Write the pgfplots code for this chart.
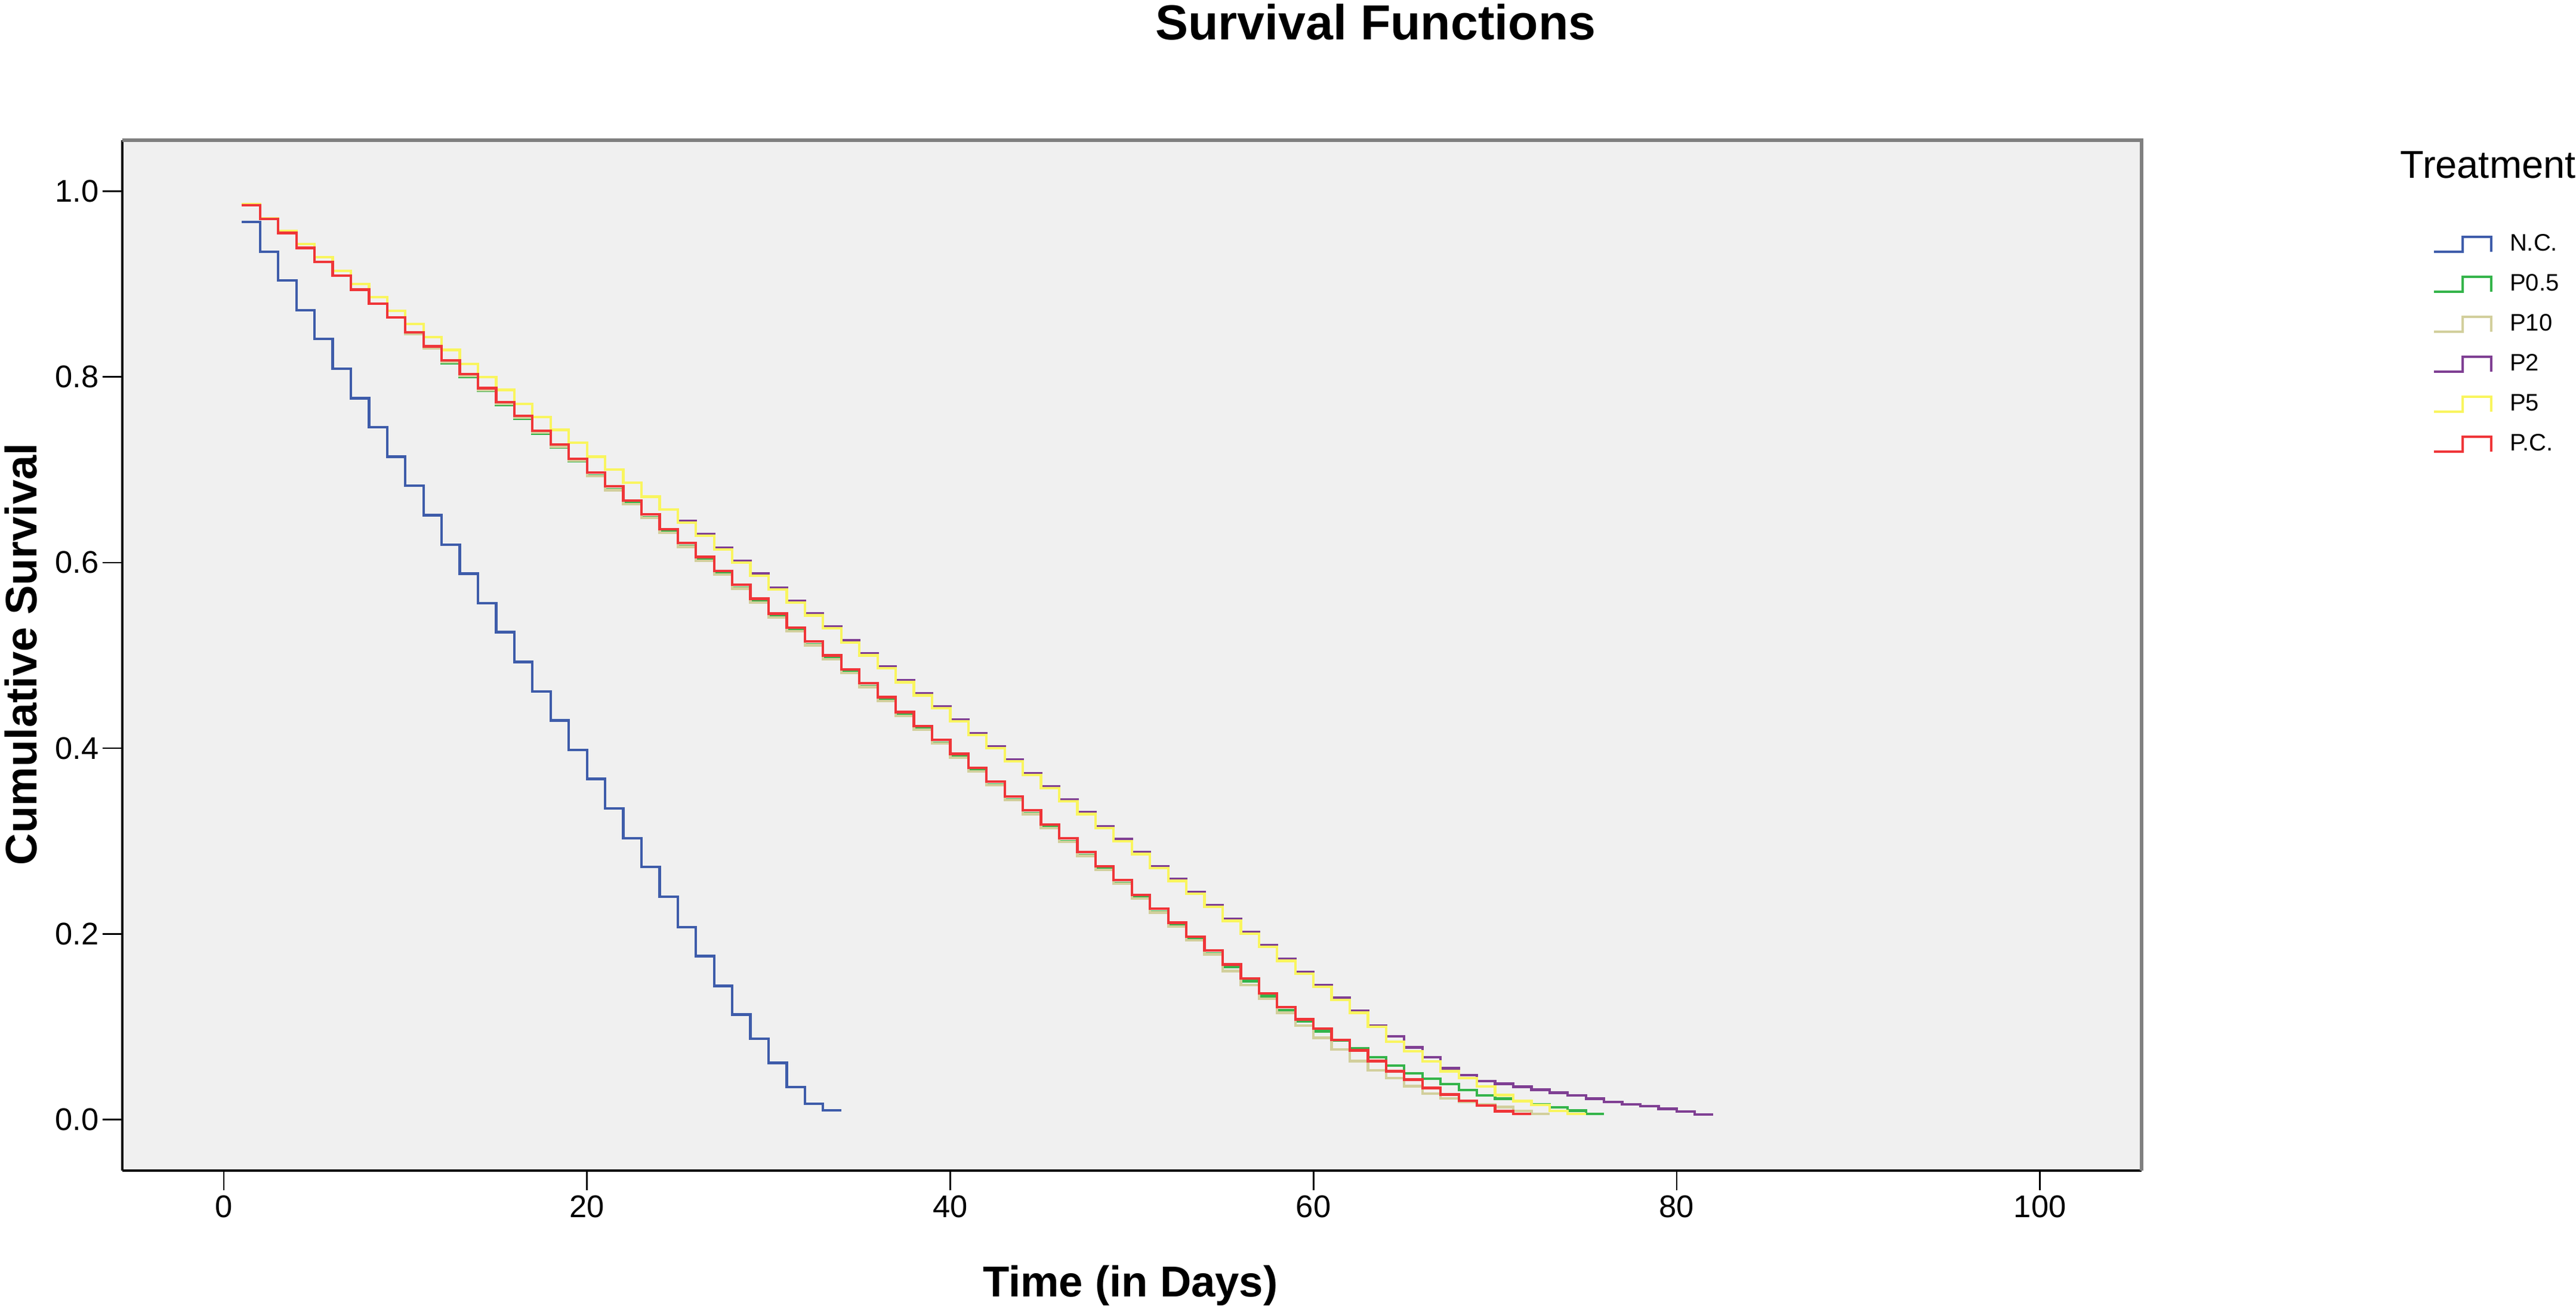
\documentclass[border=0pt]{standalone}
\usepackage{fontspec}
\setmainfont{Liberation Sans}
\usepackage{pgfplots}
\pgfplotsset{compat=1.18}
\definecolor{bggray}{HTML}{F0F0F0}
\definecolor{framegray}{HTML}{808080}
\definecolor{cNC}{HTML}{3E5CAA}
\definecolor{cPO}{HTML}{34B44A}
\definecolor{cPT}{HTML}{D2CF9C}
\definecolor{cPW}{HTML}{7F3F93}
\definecolor{cPF}{HTML}{F9F55E}
\definecolor{cPC}{HTML}{EF3538}
\begin{document}
\begin{tikzpicture}
\useasboundingbox (0,0) rectangle (863.4pt,438.6pt);
\begin{axis}[
  at={(40.9pt,46.2pt)}, anchor=south west,
  scale only axis, width=676.9pt, height=345.4pt,
  xmin=-5.6, xmax=105.6, ymin=-0.055, ymax=1.055,
  clip=false,
  axis background/.style={fill=bggray},
  axis x line*=bottom, axis y line*=left,
  axis line style={-, black, line width=0.8pt},
  xtick={0,20,40,60,80,100},
  ytick={0,0.2,0.4,0.6,0.8,1},
  tick align=outside, major tick length=6.6pt,
  tick style={black, line width=0.55pt},
  /pgf/number format/assume math mode=true,
  ticklabel style={font=\fontsize{10.5}{12}\selectfont},
  xticklabel style={inner sep=1.5pt},
  yticklabel style={inner sep=1pt, /pgf/number format/.cd, fixed, fixed zerofill, precision=1},
  xlabel={Time (in Days)},
  ylabel={Cumulative Survival},
  xlabel style={at={(axis description cs:0.4993,-0.1225)}, anchor=base, font=\bfseries\fontsize{14.5}{16}\selectfont},
  ylabel style={at={(axis description cs:-0.0502,0.5012)}, anchor=center, font=\bfseries\fontsize{14.8}{16}\selectfont},
  legend style={at={(axis description cs:1.1439,0.9103)}, anchor=north west, draw=none, fill=none,
    inner sep=0pt, row sep=5.9pt, column sep=5.8pt, font=\fontsize{8}{9}\selectfont,
    nodes={inner sep=0pt, text height=6pt, text depth=1.5pt}},
  legend cell align=left,
  legend image code/.code={\draw[#1, line width=0.8pt] (0pt,-2.5pt) -- (9.6pt,-2.5pt) -- (9.6pt,2.5pt) -- (19.2pt,2.5pt) -- (19.2pt,-2.5pt);},
  every axis plot/.append style={const plot, line width=0.85pt, mark=none},
]
% N.C.
\addplot[cNC] coordinates {
(1,0.967)(2,0.935)(3,0.904)(4,0.872)(5,0.841)(6,0.809)(7,0.777)(8,0.746)(9,0.714)(10,0.683)
(11,0.651)(12,0.619)(13,0.588)(14,0.556)(15,0.525)(16,0.493)(17,0.461)(18,0.430)(19,0.398)(20,0.367)
(21,0.335)(22,0.303)(23,0.272)(24,0.240)(25,0.207)(26,0.176)(27,0.144)(28,0.113)(29,0.087)(30,0.061)
(31,0.035)(32,0.017)(33,0.010)(34,0.010)};
\addlegendentry{N.C.}
% P0.5
\addplot[cPO] coordinates {
(1,0.985)(2,0.970)(3,0.955)(4,0.939)(5,0.924)(6,0.909)(7,0.894)(8,0.879)(9,0.864)(10,0.848)
(11,0.833)(12,0.815)(13,0.800)(14,0.785)(15,0.770)(16,0.755)(17,0.739)(18,0.724)(19,0.709)(20,0.694)
(21,0.679)(22,0.664)(23,0.649)(24,0.633)(25,0.618)(26,0.603)(27,0.588)(28,0.573)(29,0.558)(30,0.542)
(31,0.527)(32,0.512)(33,0.497)(34,0.482)(35,0.467)(36,0.452)(37,0.436)(38,0.421)(39,0.406)(40,0.391)
(41,0.376)(42,0.361)(43,0.345)(44,0.330)(45,0.315)(46,0.300)(47,0.285)(48,0.270)(49,0.255)(50,0.239)
(51,0.224)(52,0.209)(53,0.194)(54,0.179)(55,0.164)(56,0.149)(57,0.133)(58,0.118)(59,0.106)(60,0.095)
(61,0.085)(62,0.077)(63,0.067)(64,0.058)(65,0.050)(66,0.044)(67,0.038)(68,0.032)(69,0.026)(70,0.0225)
(71,0.020)(72,0.016)(73,0.013)(74,0.0096)(75,0.0060)(76,0.0060)};
\addlegendentry{P0.5}
% P10
\addplot[cPT] coordinates {
(1,0.985)(2,0.970)(3,0.955)(4,0.939)(5,0.924)(6,0.909)(7,0.894)(8,0.879)(9,0.864)(10,0.846)
(11,0.831)(12,0.816)(13,0.801)(14,0.786)(15,0.771)(16,0.756)(17,0.740)(18,0.725)(19,0.710)(20,0.693)
(21,0.678)(22,0.663)(23,0.648)(24,0.632)(25,0.617)(26,0.602)(27,0.587)(28,0.572)(29,0.557)(30,0.541)
(31,0.526)(32,0.511)(33,0.496)(34,0.481)(35,0.466)(36,0.451)(37,0.435)(38,0.420)(39,0.405)(40,0.390)
(41,0.375)(42,0.360)(43,0.344)(44,0.329)(45,0.314)(46,0.299)(47,0.284)(48,0.269)(49,0.254)(50,0.238)
(51,0.223)(52,0.208)(53,0.193)(54,0.178)(55,0.160)(56,0.145)(57,0.130)(58,0.115)(59,0.101)(60,0.088)
(61,0.0756)(62,0.063)(63,0.053)(64,0.0445)(65,0.036)(66,0.028)(67,0.023)(68,0.019)(69,0.016)(70,0.0135)
(71,0.0095)(72,0.0060)(73,0.0060)};
\addlegendentry{P10}
% P2
\addplot[cPW] coordinates {
(1,0.986)(2,0.971)(3,0.957)(4,0.943)(5,0.929)(6,0.914)(7,0.900)(8,0.886)(9,0.871)(10,0.857)
(11,0.843)(12,0.829)(13,0.814)(14,0.800)(15,0.786)(16,0.771)(17,0.757)(18,0.743)(19,0.729)(20,0.714)
(21,0.700)(22,0.686)(23,0.671)(24,0.657)(25,0.645)(26,0.631)(27,0.616)(28,0.602)(29,0.588)(30,0.573)
(31,0.559)(32,0.545)(33,0.531)(34,0.516)(35,0.502)(36,0.488)(37,0.473)(38,0.459)(39,0.445)(40,0.431)
(41,0.416)(42,0.402)(43,0.388)(44,0.373)(45,0.359)(46,0.345)(47,0.331)(48,0.316)(49,0.302)(50,0.288)
(51,0.273)(52,0.259)(53,0.245)(54,0.231)(55,0.216)(56,0.202)(57,0.188)(58,0.173)(59,0.159)(60,0.145)
(61,0.131)(62,0.117)(63,0.1013)(64,0.0895)(65,0.0777)(66,0.067)(67,0.0552)(68,0.0477)(69,0.0413)(70,0.0385)
(71,0.0353)(72,0.0321)(73,0.0289)(74,0.0259)(75,0.0225)(76,0.019)(77,0.0165)(78,0.0145)(79,0.0115)(80,0.0085)
(81,0.0055)(82,0.0055)};
\addlegendentry{P2}
% P5
\addplot[cPF] coordinates {
(1,0.986)(2,0.971)(3,0.957)(4,0.943)(5,0.929)(6,0.914)(7,0.900)(8,0.886)(9,0.871)(10,0.857)
(11,0.843)(12,0.829)(13,0.814)(14,0.800)(15,0.786)(16,0.771)(17,0.757)(18,0.743)(19,0.729)(20,0.714)
(21,0.700)(22,0.686)(23,0.671)(24,0.657)(25,0.643)(26,0.629)(27,0.614)(28,0.600)(29,0.586)(30,0.571)
(31,0.557)(32,0.543)(33,0.529)(34,0.514)(35,0.500)(36,0.486)(37,0.471)(38,0.457)(39,0.443)(40,0.429)
(41,0.414)(42,0.400)(43,0.386)(44,0.371)(45,0.357)(46,0.343)(47,0.329)(48,0.314)(49,0.300)(50,0.286)
(51,0.271)(52,0.257)(53,0.243)(54,0.229)(55,0.214)(56,0.200)(57,0.186)(58,0.171)(59,0.157)(60,0.143)
(61,0.129)(62,0.115)(63,0.100)(64,0.084)(65,0.0734)(66,0.0627)(67,0.052)(68,0.0445)(69,0.0355)(70,0.0263)
(71,0.0199)(72,0.0156)(73,0.0091)(74,0.0060)(75,0.0060)};
\addlegendentry{P5}
% P.C.
\addplot[cPC] coordinates {
(1,0.985)(2,0.970)(3,0.955)(4,0.939)(5,0.924)(6,0.909)(7,0.894)(8,0.879)(9,0.864)(10,0.848)
(11,0.833)(12,0.818)(13,0.803)(14,0.788)(15,0.773)(16,0.758)(17,0.742)(18,0.727)(19,0.712)(20,0.697)
(21,0.682)(22,0.667)(23,0.652)(24,0.636)(25,0.621)(26,0.606)(27,0.591)(28,0.576)(29,0.561)(30,0.545)
(31,0.530)(32,0.515)(33,0.500)(34,0.485)(35,0.470)(36,0.455)(37,0.439)(38,0.424)(39,0.409)(40,0.394)
(41,0.379)(42,0.364)(43,0.348)(44,0.333)(45,0.318)(46,0.303)(47,0.288)(48,0.273)(49,0.258)(50,0.242)
(51,0.227)(52,0.212)(53,0.197)(54,0.182)(55,0.167)(56,0.152)(57,0.136)(58,0.121)(59,0.108)(60,0.098)
(61,0.086)(62,0.0745)(63,0.063)(64,0.052)(65,0.043)(66,0.034)(67,0.027)(68,0.020)(69,0.015)(70,0.009)
(71,0.0060)(72,0.0060)};
\addlegendentry{P.C.}
\draw[framegray, line width=1.2pt] (rel axis cs:0,1) -- (rel axis cs:1,1) -- (rel axis cs:1,0);
\end{axis}
\node[anchor=base east, font=\bfseries\fontsize{16.5}{18}\selectfont] at (538.4pt,425.3pt) {Survival Functions};
\node[anchor=base west, font=\fontsize{13}{15}\selectfont] at (801pt,378.9pt) {Treatment};
\end{tikzpicture}
\end{document}
